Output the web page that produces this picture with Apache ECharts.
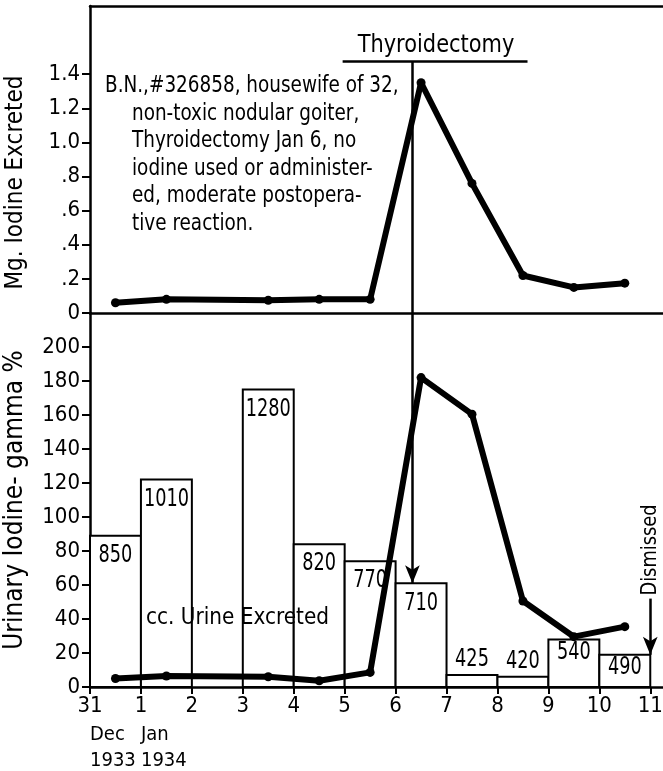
<!DOCTYPE html>
<html>
<head>
<meta charset="utf-8">
<script src="https://cdn.jsdelivr.net/npm/echarts@6/dist/echarts.min.js"></script>
<style>
  html, body { margin: 0; padding: 0; background: #fff; }
  #chart { width: 663px; height: 771px; }
</style>
</head>
<body>
<div id="chart"></div>
<script>
// x axis: days, 0 = Dec 31 1933
const dayTicks = [0, 1, 2, 3, 4, 5, 6, 7, 8, 9, 10, 11];
const dayLabels = ['31', '1', '2', '3', '4', '5', '6', '7', '8', '9', '10', '11'];
const monthTicks = [0, 1];
const monthLabels = ['Dec\n1933', 'Jan\n1934'];

// y axis tick labels
const mgTicks = [0, 0.2, 0.4, 0.6, 0.8, 1.0, 1.2, 1.4];
const mgTickLabels = ['0', '.2', '.4', '.6', '.8', '1.0', '1.2', '1.4'];
const gammaTicks = [0, 20, 40, 60, 80, 100, 120, 140, 160, 180, 200];

// daily samples (plotted mid-day)
const sampleDays = [0.5, 1.5, 3.5, 4.5, 5.5, 6.5, 7.5, 8.5, 9.5, 10.5];
const mgIodine = [0.06, 0.08, 0.075, 0.08, 0.08, 1.35, 0.76, 0.22, 0.15, 0.175];
const gammaPct = [5, 6.5, 6, 3.7, 8.6, 182, 160.5, 50.6, 29.6, 35.5];

// cc urine excreted, one bar per day
const urineStart = [0, 1, 3, 4, 5, 6, 7, 8, 9, 10];
const urineCc = [850, 1010, 1280, 820, 770, 710, 425, 420, 540, 490];
const urineBarHeight = [89, 122, 175, 84, 74, 61, 7, 6, 28, 19];

// annotations (data coordinates)
const thyroidectomyDay = 6.33;
const thyroidectomyLevel = 1.475;
const thyroidectomyBar = [4.96, 8.59];
const dismissedDay = 11;

const FONT = '"DejaVu Sans Condensed", "DejaVu Sans", sans-serif';
const black = '#000';

const chart = echarts.init(document.getElementById('chart'));

const lineX = { show: true, lineStyle: { color: black, width: 2.5 } };

// narrow, tall lettering like the hand-lettered original
function note(x, y, text, sx, extra) {
  return Object.assign({
    type: 'text', x: x, y: y, z: 10, scaleX: sx,
    style: Object.assign({ text: text, verticalAlign: 'middle', font: '23px ' + FONT, fill: black },
                         (extra && extra.style) || {})
  }, extra && extra.rotation ? { rotation: extra.rotation } : {});
}

const option = {
  animation: false,
  backgroundColor: '#fff',
  textStyle: { fontFamily: FONT, color: black },
  grid: [
    { left: 90, top: 6, right: 0, height: 307, outerBoundsMode: 'none', containLabel: false },
    { left: 90, top: 313, right: 0, height: 374, outerBoundsMode: 'none', containLabel: false }
  ],
  xAxis: [
    { gridIndex: 0, type: 'value', min: 0, max: 11.25, position: 'bottom',
      axisLine: lineX, axisTick: { show: false }, axisLabel: { show: false }, splitLine: { show: false } },
    { gridIndex: 0, type: 'value', min: 0, max: 11.25, position: 'top',
      axisLine: lineX, axisTick: { show: false }, axisLabel: { show: false }, splitLine: { show: false } },
    { gridIndex: 1, type: 'value', min: 0, max: 11.25, position: 'bottom',
      axisLine: lineX,
      axisTick: { show: true, customValues: dayTicks, length: 7, lineStyle: { color: black, width: 2 } },
      axisLabel: {
        customValues: dayTicks, margin: 8, fontSize: 22, color: black, fontFamily: FONT,
        showMinLabel: true, hideOverlap: false,
        formatter: v => dayLabels[dayTicks.indexOf(v)]
      },
      splitLine: { show: false } },
    { gridIndex: 1, type: 'value', min: 0, max: 11.25, position: 'bottom',
      axisLine: { show: false }, axisTick: { show: false },
      axisLabel: {
        customValues: monthTicks, margin: 35, align: 'left', fontSize: 20, lineHeight: 26,
        color: black, fontFamily: FONT, showMinLabel: true, hideOverlap: false,
        formatter: v => monthLabels[monthTicks.indexOf(v)]
      },
      splitLine: { show: false } }
  ],
  yAxis: [
    { gridIndex: 0, type: 'value', min: 0, max: 1.8, interval: 0.2,
      name: 'Mg. Iodine Excreted', nameLocation: 'middle', nameGap: 62,
      nameTextStyle: { fontSize: 24, color: black, fontFamily: FONT, padding: [0, 46, 0, 0] },
      axisLine: lineX,
      axisTick: { show: true, customValues: mgTicks, length: 8, lineStyle: { color: black, width: 2 } },
      axisLabel: {
        customValues: mgTicks, margin: 10, fontSize: 22, color: black, fontFamily: FONT,
        showMinLabel: true, hideOverlap: false,
        formatter: v => mgTickLabels[mgTicks.findIndex(t => Math.abs(t - v) < 1e-6)]
      },
      splitLine: { show: false } },
    { gridIndex: 1, type: 'value', min: 0, max: 220, interval: 20,
      name: 'Urinary Iodine- gamma %', nameLocation: 'middle', nameGap: 62,
      nameTextStyle: { fontSize: 26, color: black, fontFamily: FONT },
      axisLine: lineX,
      axisTick: { show: true, customValues: gammaTicks, length: 8, lineStyle: { color: black, width: 2 } },
      axisLabel: { customValues: gammaTicks, margin: 10, fontSize: 22, color: black, fontFamily: FONT,
                   showMinLabel: true, hideOverlap: false },
      splitLine: { show: false } }
  ],
  series: [
    {
      type: 'line', xAxisIndex: 0, yAxisIndex: 0, z: 5,
      data: sampleDays.map((d, i) => [d, mgIodine[i]]),
      symbol: 'circle', symbolSize: 9,
      lineStyle: { color: black, width: 6 }, itemStyle: { color: black },
      markLine: {
        silent: true, symbol: 'none', label: { show: false },
        lineStyle: { color: black, width: 2.5, type: 'solid' },
        data: [
          [{ coord: [thyroidectomyDay, thyroidectomyLevel] }, { coord: [thyroidectomyDay, 0] }],
          [{ coord: [thyroidectomyBar[0], thyroidectomyLevel] }, { coord: [thyroidectomyBar[1], thyroidectomyLevel] }]
        ]
      }
    },
    {
      type: 'custom', xAxisIndex: 2, yAxisIndex: 1, z: 2,
      encode: { x: 0, y: 1 },
      data: urineStart.map((s, i) => [s, urineBarHeight[i], urineCc[i]]),
      renderItem: function (params, api) {
        const x0 = api.value(0), h = api.value(1), cc = api.value(2);
        const p0 = api.coord([x0, h]);
        const p1 = api.coord([x0 + 1, 0]);
        const small = h < 10;
        return {
          type: 'group',
          children: [
            { type: 'rect',
              shape: { x: p0[0], y: p0[1], width: p1[0] - p0[0], height: p1[1] - p0[1] },
              style: { fill: '#fff', stroke: black, lineWidth: 2 } },
            { type: 'text', x: (p0[0] + p1[0]) / 2, y: small ? p0[1] - 15 : p0[1] + (h < 35 ? 13 : 20),
              scaleX: 0.82,
              style: { text: String(cc), align: 'center', verticalAlign: 'middle', fill: black,
                       font: '24px ' + FONT } }
          ]
        };
      }
    },
    {
      type: 'line', xAxisIndex: 2, yAxisIndex: 1, z: 5,
      data: sampleDays.map((d, i) => [d, gammaPct[i]]),
      symbol: 'circle', symbolSize: 9,
      lineStyle: { color: black, width: 6 }, itemStyle: { color: black },
      markLine: {
        silent: true, label: { show: false },
        symbol: ['none', 'arrow'], symbolSize: [11, 18],
        lineStyle: { color: black, width: 2.5, type: 'solid' },
        data: [
          [{ coord: [thyroidectomyDay, 220] }, { coord: [thyroidectomyDay, urineBarHeight[5]] }],
          [{ coord: [dismissedDay, 52] }, { coord: [dismissedDay, urineBarHeight[9]] }]
        ]
      }
    }
  ],
  graphic: [
    note(436, 46, 'Thyroidectomy', 0.97, { style: { align: 'center', font: '24px ' + FONT } }),
    note(105, 86, 'B.N.,#326858, housewife of 32,', 0.89),
    note(132, 100, 'non-toxic nodular goiter,\nThyroidectomy Jan 6, no\niodine used or administer-\ned, moderate postopera-\ntive reaction.', 0.89,
      { style: { verticalAlign: 'top', lineHeight: 27.5 } }),
    note(146, 618, 'cc. Urine Excreted', 0.97),
    note(650, 550, 'Dismissed', 0.9, { rotation: Math.PI / 2, style: { align: 'center', font: '22px ' + FONT } })
  ]
};

chart.setOption(option);
</script>
</body>
</html>
